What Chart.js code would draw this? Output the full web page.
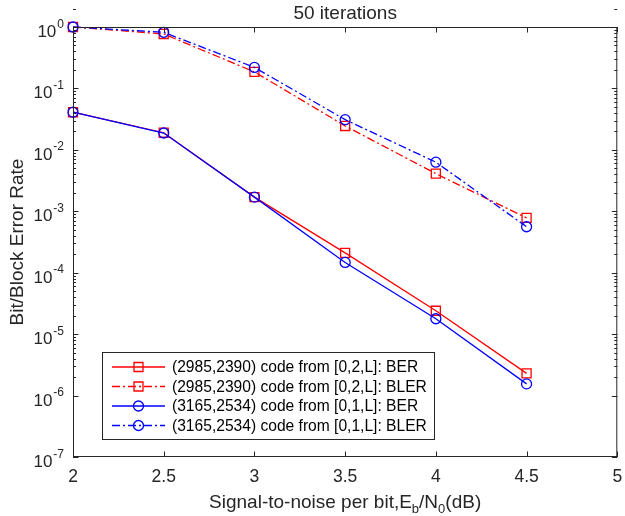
<!DOCTYPE html>
<html>
<head>
<meta charset="utf-8">
<script src="https://cdn.jsdelivr.net/npm/chart.js@4.4.1/dist/chart.umd.min.js"></script>
<style>
  html, body { margin: 0; padding: 0; background: #fff; }
  canvas { display: block; }
</style>
</head>
<body>
<canvas id="ber" width="625" height="516"></canvas>
<script>
// values
const snr = [2, 2.5, 3, 3.5, 4, 4.5];
const berL2  = [0.041, 0.019, 1.7e-3, 2.1e-4, 2.4e-5, 2.3e-6];
const blerL2 = [1.0, 0.77, 0.186, 0.0245, 0.0041, 7.8e-4];
const berL1  = [0.041, 0.0188, 1.7e-3, 1.47e-4, 1.78e-5, 1.55e-6];
const blerL1 = [1.0, 0.82, 0.22, 0.031, 0.0063, 5.6e-4];
const seriesNames = [
  '(2985,2390) code from [0,2,L]: BER',
  '(2985,2390) code from [0,2,L]: BLER',
  '(3165,2534) code from [0,1,L]: BER',
  '(3165,2534) code from [0,1,L]: BLER'
];
const xTicks = [2, 2.5, 3, 3.5, 4, 4.5, 5];
const yDecades = [0, -1, -2, -3, -4, -5, -6, -7];
const titleText = '50 iterations';
const yTitle = 'Bit/Block Error Rate';

const FONT = "'Liberation Sans', Arial, sans-serif";
const AX = '#262626';
const RED = '#ff0000', BLUE = '#0000ff';
const DASHDOT = [8, 3, 2, 3];

const styles = [
  { color: RED,  dash: [],      marker: 'rect' },
  { color: RED,  dash: DASHDOT, marker: 'rect' },
  { color: BLUE, dash: [],      marker: 'circle' },
  { color: BLUE, dash: DASHDOT, marker: 'circle' }
];
const values = [berL2, blerL2, berL1, blerL1];

function drawMarker(ctx, type, x, y, color) {
  ctx.save();
  ctx.strokeStyle = color; ctx.lineWidth = 1.3; ctx.setLineDash([]);
  ctx.beginPath();
  if (type === 'rect') ctx.rect(x - 4.5, y - 4.5, 9, 9);
  else ctx.arc(x, y, 5, 0, Math.PI * 2);
  ctx.stroke();
  ctx.restore();
}

const matlabAxes = {
  id: 'matlabAxes',
  afterDatasetsDraw(chart) {
    const { ctx, chartArea: a, scales: { x, y } } = chart;
    ctx.save();
    ctx.strokeStyle = AX; ctx.lineWidth = 1;
    ctx.strokeRect(a.left + 0.5, a.top + 0.5, a.right - a.left - 1, a.bottom - a.top - 1);
    ctx.beginPath();
    xTicks.forEach(v => {
      const px = Math.round(x.getPixelForValue(v)) + 0.5;
      ctx.moveTo(px, a.bottom); ctx.lineTo(px, a.bottom - 5.5);
      ctx.moveTo(px, a.top); ctx.lineTo(px, a.top + 5.5);
    });
    yDecades.forEach(e => {
      for (let m = 1; m <= 9; m++) {
        if (e === -7 && m > 1) break;
        const py = Math.round(y.getPixelForValue(m * Math.pow(10, e))) + 0.5;
        const len = m === 1 ? 5.5 : 3;
        ctx.moveTo(a.left, py); ctx.lineTo(a.left + len, py);
        ctx.moveTo(a.right, py); ctx.lineTo(a.right - len, py);
      }
    });
    ctx.stroke();

    // tick labels
    ctx.fillStyle = AX;
    ctx.font = '17.5px ' + FONT;
    ctx.textAlign = 'center'; ctx.textBaseline = 'middle';
    xTicks.forEach(v => ctx.fillText(String(v), x.getPixelForValue(v), 477));
    yDecades.forEach(e => {
      const py = y.getPixelForValue(Math.pow(10, e));
      const ex = String(e);
      ctx.font = '12px ' + FONT;
      const we = ctx.measureText(ex).width;
      ctx.textAlign = 'left'; ctx.textBaseline = 'alphabetic';
      ctx.fillText(ex, a.left - 9 - we, py + 0.5);
      ctx.font = '17px ' + FONT;
      ctx.textAlign = 'right';
      ctx.fillText('10', a.left - 10 - we, py + 10);
    });

    // title
    ctx.font = '19px ' + FONT;
    ctx.textAlign = 'center'; ctx.textBaseline = 'middle';
    ctx.fillText(titleText, (a.left + a.right) / 2, 14);

    // y title
    ctx.save();
    ctx.translate(18, (a.top + a.bottom) / 2);
    ctx.rotate(-Math.PI / 2);
    ctx.fillText(yTitle, 0, 0);
    ctx.restore();

    // x title with subscripts
    const parts = [
      ['Signal-to-noise per bit,E', 0], ['b', 1], ['/N', 0], ['0', 1], ['(dB)', 0]
    ];
    let total = 0;
    parts.forEach(p => { ctx.font = (p[1] ? '13px ' : '19px ') + FONT; p.push(ctx.measureText(p[0]).width); total += p[2]; });
    let cx = (a.left + a.right) / 2 - total / 2;
    ctx.textAlign = 'left'; ctx.textBaseline = 'alphabetic';
    parts.forEach(p => {
      ctx.font = (p[1] ? '13px ' : '19px ') + FONT;
      ctx.fillText(p[0], cx, p[1] ? 513 : 508);
      cx += p[2];
    });

    // legend
    ctx.fillStyle = '#fff';
    ctx.fillRect(102.5, 352.5, 332, 87);
    ctx.strokeStyle = AX; ctx.lineWidth = 1;
    ctx.strokeRect(102.5, 352.5, 332, 87);
    const rows = [367, 386.5, 406, 425.5];
    seriesNames.forEach((name, i) => {
      const s = styles[i], ry = rows[i];
      ctx.strokeStyle = s.color; ctx.lineWidth = 1.3; ctx.setLineDash(s.dash);
      ctx.beginPath(); ctx.moveTo(112, ry); ctx.lineTo(165, ry); ctx.stroke();
      ctx.setLineDash([]);
      drawMarker(ctx, s.marker, 138.5, ry, s.color);
      ctx.fillStyle = '#000';
      ctx.font = '15.6px ' + FONT;
      ctx.textAlign = 'left'; ctx.textBaseline = 'middle';
      ctx.fillText(name, 172, ry + 1);
    });
    ctx.restore();
  }
};

new Chart(document.getElementById('ber'), {
  type: 'line',
  data: {
    datasets: values.map((vals, i) => ({
      label: seriesNames[i],
      data: snr.map((s, k) => ({ x: s, y: vals[k] })),
      borderColor: styles[i].color,
      borderWidth: 1.3,
      borderDash: styles[i].dash,
      pointStyle: styles[i].marker,
      pointRadius: styles[i].marker === 'rect' ? 6.4 : 5,
      pointBorderWidth: 1.3,
      pointBorderColor: styles[i].color,
      pointBackgroundColor: 'rgba(0,0,0,0)',
      tension: 0,
      clip: false,
      order: 4 - i
    }))
  },
  options: {
    responsive: false,
    animation: false,
    layout: { padding: { left: 73, right: 3.5, top: 27, bottom: 59 } },
    plugins: { legend: { display: false }, tooltip: { enabled: false } },
    scales: {
      x: { type: 'linear', min: 2, max: 5, display: false },
      y: { type: 'logarithmic', min: 1e-7, max: 1, display: false }
    }
  },
  plugins: [matlabAxes]
});
</script>
</body>
</html>
